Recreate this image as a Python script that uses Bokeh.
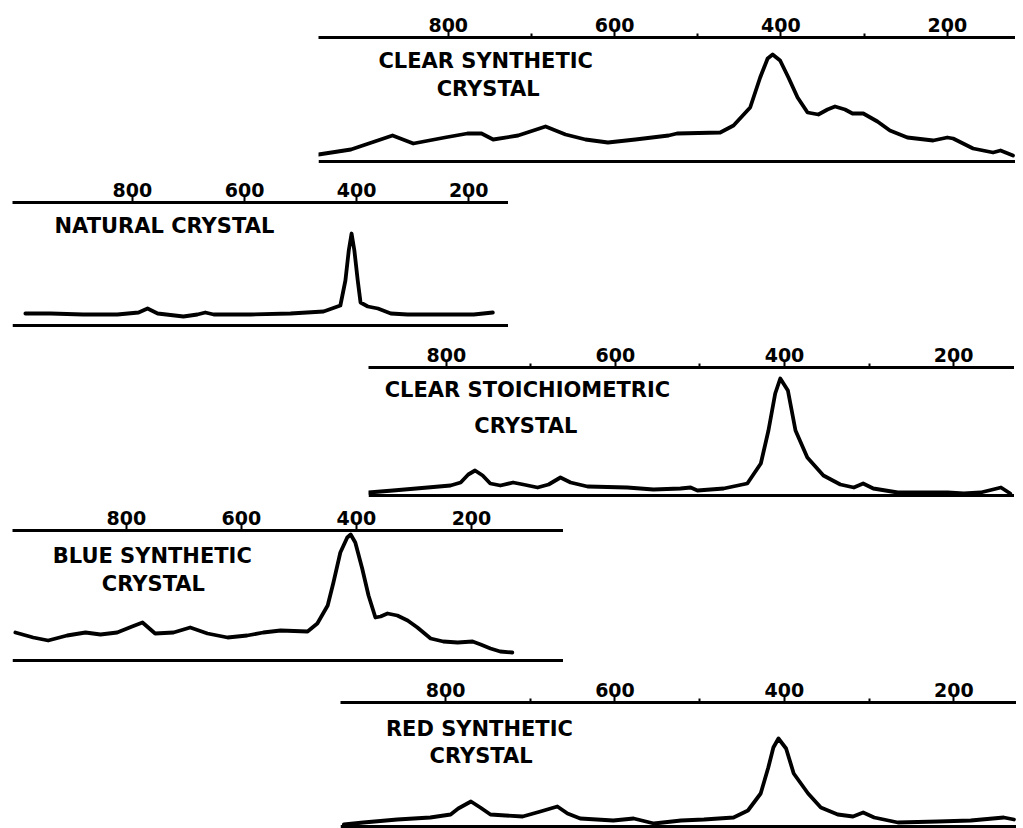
from bokeh.plotting import figure
from bokeh.models import Range1d, FixedTicker, Span, Spacer
from bokeh.layouts import column, row
from bokeh.core.properties import value
from bokeh.embed import file_html
from bokeh.resources import INLINE

# ---------------- data ----------------
major_ticks = [800, 600, 400, 200]
minor_ticks = [700, 500, 300]

clear_syn_wn = [956, 917, 867, 842, 804, 777, 760, 746, 716, 683, 659, 635, 608, 575, 535,
                525, 473, 457, 437, 425, 416, 410, 401, 391, 380, 368, 355, 344, 335, 323,
                314, 301, 284, 269, 248, 217, 200, 193, 169, 145, 136, 121]
clear_syn_int = [7, 12, 26, 18, 24, 28, 28, 22, 26, 35, 27, 22, 19, 22, 26,
                 28, 29, 36, 54, 84, 103, 107, 101, 84, 64, 49, 47, 52, 55, 52,
                 48, 48, 40, 31, 24, 21, 24, 23, 13, 9, 11, 6]

natural_wn = [991, 946, 888, 827, 789, 773, 755, 709, 684, 670, 655, 589, 518, 459, 429,
              420, 414, 409, 404, 398, 393, 380, 362, 339, 309, 280, 250, 220, 191, 157]
natural_int = [12, 12, 11, 11, 13, 17, 12, 9, 11, 13, 11, 11, 12, 14, 20,
               45, 75, 92, 75, 45, 23, 19, 17, 12, 11, 11, 11, 11, 11, 13]

stoich_wn = [892, 863, 822, 795, 783, 774, 766, 757, 748, 736, 721, 709, 692, 679, 665,
             653, 633, 586, 555, 523, 511, 503, 472, 444, 428, 419, 411, 405, 396, 387,
             373, 354, 334, 318, 307, 295, 266, 207, 188, 168, 144, 133]
stoich_int = [3, 5, 8, 10, 13, 21, 25, 20, 12, 10, 13, 11, 8, 11, 18,
              13, 9, 8, 6, 7, 8, 5, 7, 12, 32, 65, 102, 117, 105, 65,
              38, 20, 11, 8, 12, 7, 3, 3, 2, 3, 8, 2]

blue_wn = [993, 962, 936, 903, 871, 845, 816, 790, 772, 750, 718, 689, 659, 624, 590,
           562, 532, 485, 468, 450, 440, 428, 416, 410, 402, 390, 379, 367, 358, 346,
           329, 311, 294, 271, 249, 224, 198, 184, 167, 150, 129]
blue_int = [28, 23, 20, 25, 28, 26, 28, 34, 38, 27, 28, 33, 27, 23, 25,
            28, 30, 29, 37, 55, 78, 108, 123, 126, 118, 92, 65, 43, 44, 47,
            45, 40, 33, 22, 19, 18, 19, 16, 12, 9, 8]

red_wn = [920, 897, 857, 818, 794, 785, 770, 759, 747, 729, 709, 688, 668, 656, 641,
          602, 578, 554, 522, 495, 460, 443, 428, 419, 413, 407, 398, 389, 372, 357,
          337, 319, 307, 294, 266, 219, 180, 141, 129]
red_int = [2, 4, 7, 9, 12, 18, 25, 19, 12, 11, 10, 15, 20, 13, 8,
           6, 8, 3, 6, 7, 9, 16, 33, 59, 79, 88, 78, 53, 33, 19,
           12, 10, 14, 9, 4, 5, 6, 9, 7]

clear_syn_titles = ["CLEAR SYNTHETIC", "CRYSTAL"]
natural_titles = ["NATURAL CRYSTAL"]
stoich_titles = ["CLEAR STOICHIOMETRIC", "CRYSTAL"]
blue_titles = ["BLUE SYNTHETIC", "CRYSTAL"]
red_titles = ["RED SYNTHETIC", "CRYSTAL"]

# ---------------- layout / style ----------------
FONT = value("DejaVu Sans")


def make_panel(wn, inten, titles, title_x, title_y, x_start, x_end, y_top,
               width, height, border_top, minor):
    p = figure(width=width, height=height,
               x_range=Range1d(x_start, x_end), y_range=Range1d(-2, y_top),
               output_backend="svg", toolbar_location=None,
               x_axis_location="above", y_axis_location=None,
               min_border_left=0, min_border_right=0, min_border_bottom=0,
               min_border_top=border_top)
    p.xgrid.visible = False
    p.ygrid.visible = False
    p.outline_line_color = None
    p.background_fill_color = "white"
    p.border_fill_color = "white"
    ax = p.xaxis[0]
    ax.ticker = FixedTicker(ticks=major_ticks, minor_ticks=minor)
    ax.axis_line_width = 3
    ax.axis_line_color = "black"
    ax.major_tick_line_width = 2
    ax.major_tick_line_color = "black"
    ax.major_tick_in = 0
    ax.major_tick_out = 6
    ax.minor_tick_line_width = 2
    ax.minor_tick_line_color = "black"
    ax.minor_tick_in = 0
    ax.minor_tick_out = 4
    ax.major_label_standoff = 0
    ax.major_label_text_font = "DejaVu Sans"
    ax.major_label_text_font_style = "bold"
    ax.major_label_text_font_size = "19px"
    ax.major_label_text_color = "black"

    p.line(wn, inten, line_width=3.8, line_color="black",
           line_join="round", line_cap="round")
    p.add_layout(Span(location=0, dimension="width", line_width=3,
                      line_color="black"))
    p.text(x=title_x, y=title_y, text=titles, text_align="center",
           text_baseline="middle", text_font=FONT, text_font_style="bold",
           text_font_size="21px", text_color="black")
    return p


p1 = make_panel(clear_syn_wn, clear_syn_int, clear_syn_titles, [755, 752], [101, 73],
                956, 118, 124, 697, 163, 37, minor_ticks)
p2 = make_panel(natural_wn, natural_int, natural_titles, [743], [100],
                1014, 129, 123, 496, 164, 39, [])
p3 = make_panel(stoich_wn, stoich_int, stoich_titles, [704, 706], [106, 70],
                892, 128, 128, 646, 170, 40, minor_ticks)
p4 = make_panel(blue_wn, blue_int, blue_titles, [755, 753], [105, 77],
                998, 40, 130, 551, 165, 33, [])
p5 = make_panel(red_wn, red_int, red_titles, [760, 758], [98, 71],
                924, 126, 124, 676, 166, 40, minor_ticks)

layout = column(
    row(Spacer(width=318, height=163), p1),
    row(Spacer(width=12, height=164), p2),
    row(Spacer(width=368, height=170), p3),
    row(Spacer(width=12, height=165), p4),
    row(Spacer(width=340, height=166), p5),
    spacing=0,
)

with open("out.html", "w") as f:
    f.write(file_html(layout, INLINE))
